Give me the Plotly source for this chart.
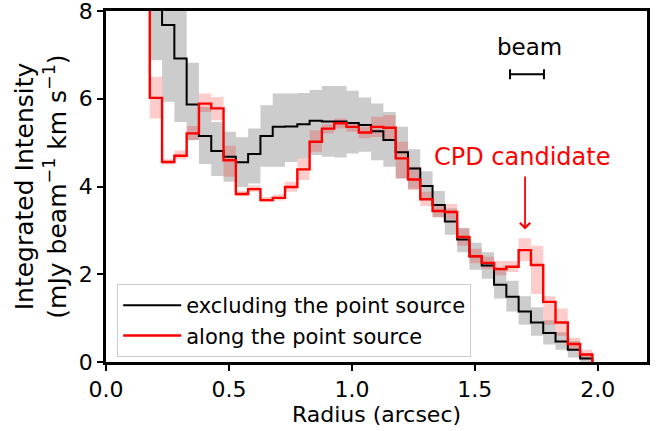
import plotly.graph_objects as go

# ---- data ----
bin_width = 0.05  # arcsec
# bin centres (arcsec); the first bin is an inner, off-scale bin
radius = [round(0.153 + bin_width * k, 3) for k in range(37)]

# excluding the point source (black) - first value is the off-scale inner bin
excl = [10.0, 9.0, 7.68, 6.92, 5.87, 5.15, 4.81, 4.68, 4.55, 4.74, 5.15, 5.36, 5.37,
        5.42, 5.50, 5.48, 5.48, 5.45, 5.40, 5.26, 5.06, 4.78, 4.41, 4.01, 3.58,
        3.20, 2.79, 2.41, 2.20, 1.76, 1.49, 1.15, 0.90, 0.66, 0.47, 0.28, 0.08]
excl_lo = [6.88, 5.93, 5.47, 5.06, 4.51, 4.24, 4.11, 3.99, 4.07, 4.45, 4.45, 4.56,
           4.64, 4.72, 4.68, 4.66, 4.75, 4.79, 4.60, 4.45, 4.18, 3.95, 3.70, 3.30,
           2.90, 2.50, 2.10, 1.90, 1.45, 1.15, 0.85, 0.60, 0.40, 0.28, 0.10, 0.00]
excl_hi = [10.0, 9.5, 8.6, 6.82, 5.82, 5.47, 5.25, 5.12, 5.32, 5.85, 6.12, 6.12,
           6.13, 6.20, 6.29, 6.29, 6.18, 6.03, 5.89, 5.70, 5.36, 4.85, 4.35, 3.90,
           3.50, 3.05, 2.72, 2.50, 2.10, 1.85, 1.50, 1.25, 0.95, 0.68, 0.48, 0.20]

# along the point source (red)
along = [10.0, 6.02, 4.56, 4.70, 5.21, 5.89, 5.78, 4.60, 3.83, 3.94, 3.69, 3.74, 3.99,
         4.39, 5.02, 5.32, 5.44, 5.36, 5.23, 5.36, 5.34, 4.64, 4.16, 3.71, 3.44,
         3.42, 2.85, 2.41, 2.26, 2.12, 2.17, 2.55, 2.21, 1.37, 0.90, 0.41, 0.17]
along_lo = [5.55, 4.50, 4.62, 5.06, 5.70, 5.51, 4.22, 3.78, 3.88, 3.64, 3.68, 3.88,
            4.15, 4.79, 5.21, 5.32, 5.25, 5.10, 5.13, 5.06, 4.18, 3.92, 3.55, 3.30,
            3.25, 2.65, 2.25, 2.12, 1.98, 2.05, 2.30, 1.55, 0.85, 0.60, 0.28, 0.08]
along_hi = [6.50, 4.62, 4.82, 5.38, 6.12, 6.04, 4.93, 3.90, 4.02, 3.76, 3.82, 4.11,
            4.64, 5.28, 5.42, 5.55, 5.47, 5.36, 5.59, 5.63, 5.02, 4.45, 3.88, 3.58,
            3.60, 3.05, 2.58, 2.40, 2.30, 2.30, 2.82, 2.65, 1.50, 1.22, 0.55, 0.28]

beam_center = 1.712   # arcsec
beam_size = 0.138     # arcsec
beam_level = 6.56
cpd_radius = 1.704

x_ticks = [0.0, 0.5, 1.0, 1.5, 2.0]
y_ticks = [0, 2, 4, 6, 8]

# ---- helpers ----
edges = [round(r - bin_width / 2, 3) for r in radius] + [round(radius[-1] + bin_width / 2, 3)]
band_x = edges[1:]

FONT = "DejaVu Sans"
GRAY_FILL = "rgba(128,128,128,0.4)"
PINK_FILL = "rgba(255,0,0,0.2)"

fig = go.Figure()

def add_band(lo, hi, color):
    fig.add_trace(go.Scatter(x=band_x, y=lo + [lo[-1]], mode="lines",
                             line=dict(width=0, shape="hv"), showlegend=False,
                             hoverinfo="skip"))
    fig.add_trace(go.Scatter(x=band_x, y=hi + [hi[-1]], mode="lines",
                             line=dict(width=0, shape="hv"), fill="tonexty",
                             fillcolor=color, showlegend=False, hoverinfo="skip"))

add_band(excl_lo, excl_hi, GRAY_FILL)
add_band(along_lo, along_hi, PINK_FILL)

fig.add_trace(go.Scatter(x=edges, y=excl + [0.0], mode="lines",
                         line=dict(color="black", width=2, shape="hv"),
                         name="excluding the point source"))
fig.add_trace(go.Scatter(x=edges, y=along + [0.0], mode="lines",
                         line=dict(color="red", width=2.4, shape="hv"),
                         name="along the point source"))

# beam size bar
fig.add_trace(go.Scatter(x=[beam_center], y=[beam_level], mode="markers",
                         marker=dict(size=1, color="rgba(0,0,0,0)"),
                         error_x=dict(type="data", array=[beam_size / 2], color="black",
                                      thickness=2, width=5),
                         showlegend=False, hoverinfo="skip"))

fig.add_annotation(x=beam_center + 0.01, y=7.17, text="beam", showarrow=False,
                   font=dict(family=FONT, size=23, color="black"),
                   xanchor="center", yanchor="middle")
fig.add_annotation(x=1.69, y=4.67, text="CPD candidate", showarrow=False,
                   font=dict(family=FONT, size=24, color="red"),
                   xanchor="center", yanchor="middle")
fig.add_annotation(x=cpd_radius, y=3.02, ax=cpd_radius, ay=4.26, axref="x", ayref="y",
                   xref="x", yref="y", text="", showarrow=True, arrowhead=4,
                   arrowsize=1.1, arrowwidth=1.8, arrowcolor="red")

axis_common = dict(showline=True, linecolor="black", linewidth=2.5, mirror=True,
                   ticks="outside", ticklen=6, tickwidth=2, tickcolor="black",
                   showgrid=False, zeroline=False, automargin=False,
                   ticklabeloverflow="allow",
                   tickfont=dict(family=FONT, size=22, color="black"))

fig.update_xaxes(range=[0, 2.2], tickvals=x_ticks,
                 ticktext=[f"{v:.1f}" for v in x_ticks],
                 title=dict(text="Radius (arcsec)", font=dict(family=FONT, size=22, color="black"),
                            standoff=3),
                 **axis_common)
fig.update_yaxes(range=[0, 8], tickvals=y_ticks,
                 ticktext=[str(v) for v in y_ticks],
                 title=dict(text="Integrated Intensity<br>(mJy beam<sup>\u22121</sup> km s<sup>\u22121</sup>)",
                            font=dict(family=FONT, size=25, color="black"), standoff=6),
                 **axis_common)

fig.update_layout(
    width=671, height=431,
    margin=dict(l=106, r=24, t=11, b=69),
    plot_bgcolor="white", paper_bgcolor="white",
    font=dict(family=FONT, color="black"),
    legend=dict(x=0.0207, y=0.222, xanchor="left", yanchor="top", traceorder="normal",
                bgcolor="rgba(255,255,255,0.85)", bordercolor="#cccccc", borderwidth=1,
                font=dict(family=FONT, size=21, color="black"), itemwidth=58,
                tracegroupgap=0),
)

fig.write_html("out.html", config={"displayModeBar": False},
               post_script="document.body.style.margin='0';")
